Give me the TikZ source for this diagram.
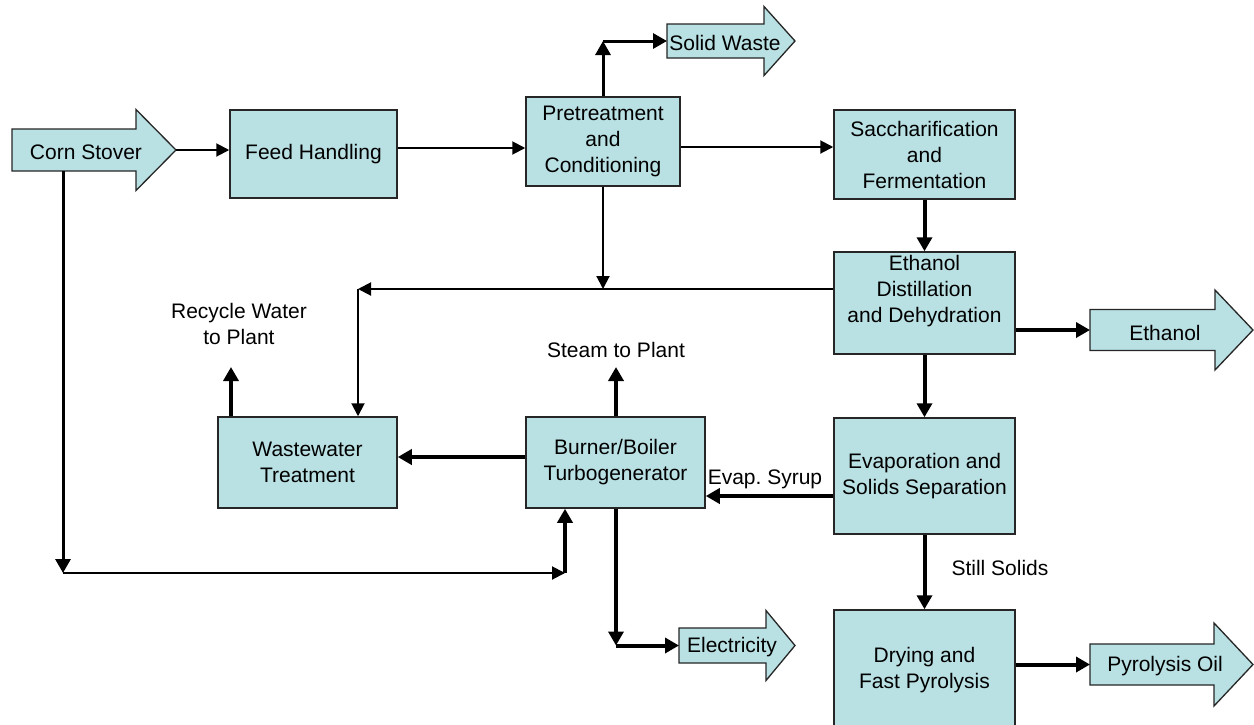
\documentclass[tikz,border=0pt]{standalone}
\usepackage{fontspec}
\setmainfont{Liberation Sans}
\usetikzlibrary{arrows.meta}
\definecolor{boxfill}{RGB}{185,224,227}
\frenchspacing
\tikzset{
 box/.style={draw=black!85, line width=1.5pt, fill=boxfill, inner sep=0pt, align=center, font=\fontsize{21}{26}\selectfont},
 txt/.style={inner sep=0pt, align=center, font=\fontsize{21}{26}\selectfont},
 thinflow/.style={line width=2pt, -{Triangle[length=13pt,width=13pt]}},
 thickflow/.style={line width=4pt, -{Triangle[length=14pt,width=15pt]}},
 midflow/.style={line width=3pt, -{Triangle[length=14pt,width=15pt]}},
 outshape/.style={draw=black!85, line width=1.3pt, fill=boxfill, line join=miter},
}
\newcommand\flowout[7]{%
 \filldraw[outshape] (#2,#5-#6) -- (#3,#5-#6) -- (#3,#5-#7) -- (#4,#5) -- (#3,#5+#7) -- (#3,#5+#6) -- (#2,#5+#6) -- cycle;
 \coordinate (#1-in) at (#2,#5);
 \coordinate (#1-tip) at (#4,#5);
}
\begin{document}
\begin{tikzpicture}[x=1pt,y=-1pt]
\clip (0,0) rectangle (1254,724);
\fill[white] (0,0) rectangle (1254,724);

% output / input arrows
\flowout{cs}{12}{136}{176}{150}{21}{40.5}
\node[txt] (cst) at (86,152) {Corn Stover};
\flowout{sw}{667}{764}{795}{41}{17}{34.5}
\node[txt] (swt) at (725,43) {Solid Waste};
\flowout{eth}{1090}{1215}{1253}{330}{20.5}{40}
\node[txt] (etht) at (1165,333) {Ethanol};
\flowout{po}{1090}{1214}{1253}{664.5}{20.5}{41.5}
\node[txt] (pot) at (1165,666) {Pyrolysis Oil};
\flowout{el}{679}{766}{795}{645.5}{17.5}{35}
\node[txt] (elt) at (732,647) {Electricity};

% process boxes
\node[box, minimum width=167, minimum height=88] (fh) at (313.5,154) {Feed Handling};
\node[box, minimum width=154, minimum height=89] (pt) at (603,141.5) {Pretreatment\\and\\Conditioning};
\node[box, minimum width=181, minimum height=89] (sf) at (924.5,154.5) {Saccharification\\and\\Fermentation};
\node[box, minimum width=181, minimum height=102] (ed) at (924.5,303) {};
\node[txt] (edt) at (924.5,291) {Ethanol\\Distillation\\and Dehydration};
\node[box, minimum width=179, minimum height=91] (ww) at (307.5,462.5) {Wastewater\\Treatment};
\node[box, minimum width=179, minimum height=91] (bb) at (615.5,462.5) {Burner/Boiler\\Turbogenerator};
\node[box, minimum width=181, minimum height=116] (ev) at (924.5,476) {Evaporation and\\Solids Separation};
\node[box, minimum width=181, minimum height=120] (dr) at (924.5,670) {Drying and\\Fast Pyrolysis};

% labels
\node[txt] (lrw) at (239,324) {Recycle Water\\to Plant};
\node[txt] (lst) at (616,350) {Steam to Plant};
\node[txt] (les) at (765,479) {Evap. Syrup};
\node[txt] (lss) at (1000,568) {Still Solids};

% helper coordinates
\coordinate (h148) at (0,148);
\coordinate (h147) at (0,147);
\coordinate (h289) at (0,289);
\coordinate (h457) at (0,457);
\coordinate (h496) at (0,496);
\coordinate (swc) at (603,41);
\coordinate (rj) at (358,289);
\coordinate (pj) at (603,289);
\coordinate (rw) at (231,367);
\coordinate (stp) at (616,367);
\coordinate (elc) at (616,645.5);
\coordinate (cs-bot) at (63,171);
\coordinate (csc) at (63,573);
\coordinate (bbc) at (565,573);

% connectors
\draw[thinflow] (cs-tip) -- (fh.west |- cs-tip);
\draw[thinflow] (fh.east |- h148) -- (pt.west |- h148);
\draw[thinflow] (pt.east |- h147) -- (sf.west |- h147);
\draw[midflow] (pt.north) -- (swc);
\draw[midflow] (swc) -- (sw-in);
\draw[thickflow] (sf.south) -- (ed.north);
\draw[thickflow] (ed.east |- eth-in) -- (eth-in);
\draw[thickflow] (ed.south) -- (ev.north);
\draw[thinflow] (ed.west |- h289) -- (rj);
\draw[thinflow] (rj) -- (rj |- ww.north);
\draw[thinflow] (pt.south) -- (pj);
\draw[thickflow] (ww.north -| rw) -- (rw);
\draw[thickflow] (bb.north -| stp) -- (stp);
\draw[thickflow] (bb.west |- h457) -- (ww.east |- h457);
\draw[thickflow] (ev.west |- h496) -- (bb.east |- h496);
\draw[thickflow] (ev.south) -- (dr.north);
\draw[thickflow] (dr.east |- po-in) -- (po-in);
\draw[thickflow] (bb.south -| elc) -- (elc);
\draw[thickflow] (elc) -- (el-in);
\draw[midflow] (cs-bot) -- (csc);
\draw[thinflow] (csc) -- (bbc);
\draw[thickflow] (bbc) -- (bbc |- bb.south);
\end{tikzpicture}
\end{document}
